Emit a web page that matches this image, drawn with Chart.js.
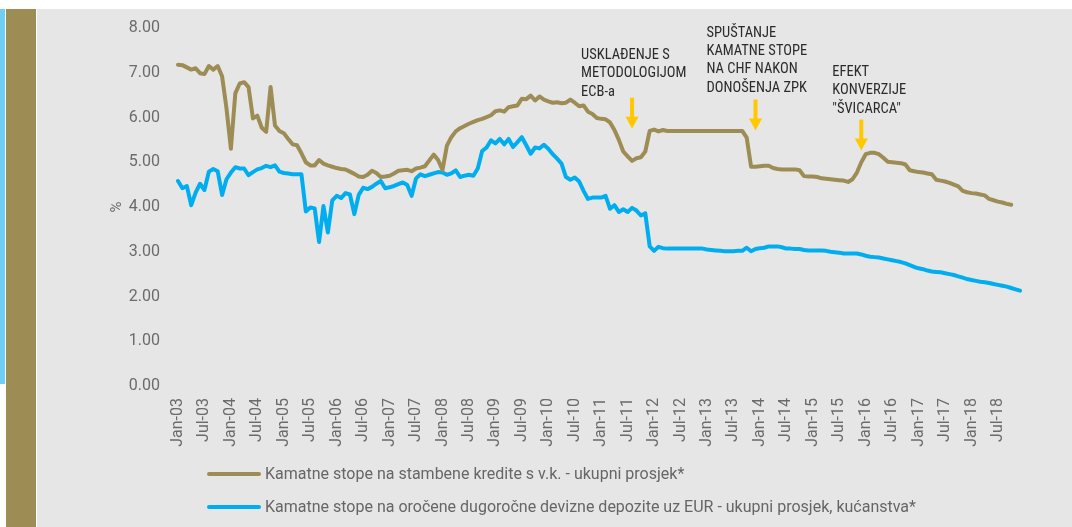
<!DOCTYPE html>
<html>
<head>
<meta charset="utf-8">
<script src="https://cdn.jsdelivr.net/npm/chart.js@4.4.1/dist/chart.umd.min.js"></script>
<style>
  html, body { margin: 0; padding: 0; background: #ffffff; }
  body { width: 1072px; height: 527px; position: relative; overflow: hidden; font-family: Roboto, "Noto Sans", sans-serif; }
  #blueStrip { position: absolute; left: 0; top: 9px; width: 5px; height: 375px; background: #6dcff6; }
  #oliveStrip { position: absolute; left: 6px; top: 9px; width: 30px; height: 518px; background: #9e8c55; }
  #panel { position: absolute; left: 37px; top: 9px; width: 1035px; height: 518px; background: #e6e6e6; }
  #chartWrap { position: absolute; left: 37px; top: 9px; width: 1035px; height: 518px; }
  .leg { position: absolute; left: 207px; font-size: 16px; color: #666; white-space: nowrap; display: flex; align-items: center; }
  .leg .sw { width: 54px; height: 4px; border-radius: 2px; margin-right: 4px; }
</style>
</head>
<body>
<div id="blueStrip"></div>
<div id="oliveStrip"></div>
<div id="panel"></div>
<div id="chartWrap"><canvas id="c" width="1035" height="518"></canvas></div>
<div class="leg" style="top:464px"><span class="sw" style="background:#9e8c55"></span><span id="leg0"></span></div>
<div class="leg" style="top:497px"><span class="sw" style="background:#00aeef"></span><span id="leg1"></span></div>
<script>
// ---- data ----
const monthNames = ['Jan','Feb','Mar','Apr','May','Jun','Jul','Aug','Sep','Oct','Nov','Dec'];
const years = ['03','04','05','06','07','08','09','10','11','12','13','14','15','16','17','18'];
const categories = [];
years.forEach(y => monthNames.forEach(m => categories.push(m + '-' + y)));

const seriesNames = [
  'Kamatne stope na stambene kredite s v.k. - ukupni prosjek*',
  'Kamatne stope na oročene dugoročne devizne depozite uz EUR - ukupni prosjek, kućanstva*'
];

const housingLoans = [
  7.18,7.17,7.12,7.07,7.10,6.99,6.97,7.15,7.07,7.15,6.92,6.20,
  5.30,6.54,6.76,6.79,6.68,5.98,6.04,5.77,5.68,6.68,5.82,5.70,
  5.65,5.52,5.40,5.38,5.20,5.00,4.93,4.93,5.05,4.97,4.93,4.90,
  4.87,4.85,4.84,4.79,4.74,4.68,4.67,4.72,4.81,4.76,4.67,4.68,
  4.70,4.75,4.81,4.82,4.83,4.80,4.86,4.88,4.91,5.04,5.17,5.05,
  4.83,5.37,5.56,5.69,5.76,5.81,5.86,5.90,5.94,5.97,6.01,6.05,
  6.14,6.16,6.13,6.23,6.25,6.27,6.42,6.41,6.49,6.38,6.47,6.40,
  6.36,6.33,6.34,6.32,6.33,6.40,6.33,6.25,6.27,6.13,6.08,5.99,
  5.97,5.96,5.89,5.72,5.50,5.24,5.13,5.03,5.09,5.11,5.24,5.70,
  5.73,5.69,5.72,5.70,5.70,5.70,5.70,5.70,5.70,5.70,5.70,5.70,
  5.70,5.70,5.70,5.70,5.70,5.70,5.70,5.70,5.70,5.55,4.90,4.90,
  4.91,4.92,4.92,4.87,4.85,4.84,4.84,4.84,4.84,4.82,4.69,4.68,
  4.68,4.67,4.64,4.63,4.62,4.61,4.60,4.59,4.56,4.62,4.77,5.00,
  5.18,5.21,5.21,5.18,5.10,5.01,5.00,4.99,4.98,4.95,4.82,4.80,
  4.78,4.77,4.75,4.73,4.61,4.59,4.57,4.54,4.50,4.46,4.36,4.33,
  4.31,4.30,4.28,4.26,4.18,4.15,4.12,4.10,4.07,4.05
];

const eurDeposits = [
  4.58,4.42,4.47,4.04,4.32,4.52,4.38,4.79,4.85,4.80,4.27,4.62,
  4.77,4.89,4.86,4.86,4.71,4.78,4.84,4.87,4.92,4.89,4.93,4.79,
  4.76,4.75,4.73,4.73,4.73,3.90,3.99,3.97,3.22,4.02,3.43,4.15,
  4.25,4.20,4.31,4.28,3.84,4.27,4.43,4.40,4.45,4.52,4.58,4.42,
  4.44,4.47,4.51,4.55,4.49,4.25,4.64,4.73,4.69,4.72,4.75,4.78,
  4.77,4.72,4.75,4.82,4.67,4.70,4.72,4.70,4.86,5.25,5.33,5.49,
  5.42,5.52,5.40,5.52,5.34,5.45,5.56,5.38,5.19,5.33,5.31,5.39,
  5.30,5.18,5.08,4.97,4.67,4.61,4.66,4.57,4.36,4.18,4.21,4.21,
  4.21,4.25,3.96,4.04,3.89,3.95,3.89,3.98,3.92,3.81,3.86,3.12,
  3.02,3.11,3.08,3.07,3.07,3.07,3.07,3.07,3.07,3.07,3.07,3.07,
  3.05,3.04,3.03,3.02,3.01,3.01,3.01,3.02,3.02,3.09,3.01,3.06,
  3.08,3.09,3.12,3.12,3.12,3.10,3.07,3.07,3.06,3.06,3.04,3.03,
  3.03,3.03,3.03,3.02,3.00,2.99,2.98,2.96,2.96,2.96,2.96,2.94,
  2.91,2.89,2.88,2.87,2.85,2.83,2.81,2.79,2.77,2.74,2.70,2.66,
  2.63,2.61,2.58,2.56,2.55,2.54,2.52,2.50,2.48,2.45,2.42,2.39,
  2.37,2.35,2.33,2.32,2.30,2.28,2.26,2.24,2.22,2.19,2.16,2.13
];

const yTicks = ['0.00','1.00','2.00','3.00','4.00','5.00','6.00','7.00','8.00'];

// annotations: category index of arrow, text lines
const annIndex = [103, 131, 155];
const annTexts = [
  ['USKLAĐENJE S', 'METODOLOGIJOM', 'ECB-a'],
  ['SPUŠTANJE', 'KAMATNE STOPE', 'NA CHF NAKON', 'DONOŠENJA ZPK'],
  ['EFEKT', 'KONVERZIJE', '"ŠVICARCA"']
];

// ---- styles / placement (not data) ----
const annStyle = [
  { dx: -51, textTopValue: 7.39, arrowTipValue: 5.75 },
  { dx: -49, textTopValue: 7.89, arrowTipValue: 5.71 },
  { dx: -29, textTopValue: 7.01, arrowTipValue: 5.26 }
];

document.getElementById('leg0').textContent = seriesNames[0];
document.getElementById('leg1').textContent = seriesNames[1];

const annotationPlugin = {
  id: 'annotations',
  afterDraw(chart) {
    const ctx = chart.ctx;
    const xs = chart.scales.x, ys = chart.scales.y;
    ctx.save();
    ctx.font = '14.5px "Liberation Sans Narrow", "Roboto Condensed", Roboto, sans-serif';
    ctx.textBaseline = 'middle';
    ctx.textAlign = 'left';
    annIndex.forEach((idx, i) => {
      const ax = xs.getPixelForValue(idx);
      const st = annStyle[i];
      const ty = ys.getPixelForValue(st.textTopValue);
      ctx.fillStyle = '#2b2b2b';
      annTexts[i].forEach((line, j) => {
        ctx.fillText(line, ax + st.dx, ty + j * 18.4);
      });
      const tip = ys.getPixelForValue(st.arrowTipValue);
      const top = tip - 31;
      const headH = 12, headW = 13, shaftW = 4;
      ctx.fillStyle = '#ffc800';
      ctx.fillRect(ax - shaftW / 2, top, shaftW, tip - headH - top + 1);
      ctx.beginPath();
      ctx.moveTo(ax - headW / 2, tip - headH);
      ctx.lineTo(ax + headW / 2, tip - headH);
      ctx.lineTo(ax, tip);
      ctx.closePath();
      ctx.fill();
    });
    ctx.restore();
  }
};

new Chart(document.getElementById('c'), {
  type: 'line',
  data: {
    labels: categories,
    datasets: [
      { label: seriesNames[0], data: housingLoans, borderColor: '#9e8c55', backgroundColor: '#9e8c55',
        borderWidth: 4, pointRadius: 0, tension: 0, borderJoinStyle: 'round', borderCapStyle: 'round', fill: false },
      { label: seriesNames[1], data: eurDeposits, borderColor: '#00aeef', backgroundColor: '#00aeef',
        borderWidth: 4, pointRadius: 0, tension: 0, borderJoinStyle: 'round', borderCapStyle: 'round', fill: false }
    ]
  },
  options: {
    responsive: false,
    animation: false,
    layout: { padding: { left: 67, right: 52, top: 19, bottom: 71 } },
    plugins: { legend: { display: false }, tooltip: { enabled: false } },
    scales: {
      x: {
        grid: { display: false, drawTicks: false },
        border: { display: false },
        ticks: {
          autoSkip: false, maxRotation: 90, minRotation: 90, padding: 12,
          color: '#6b6b6b', font: { family: 'Roboto', size: 16 },
          callback: (v, i) => (i % 6 === 0 ? categories[i] : '')
        },
        afterFit: (s) => { s.height = 70; }
      },
      y: {
        min: 0, max: 8,
        grid: { display: false, drawTicks: false },
        border: { display: false },
        title: { display: true, text: '%', color: '#6b6b6b', font: { family: 'Roboto', size: 15 }, padding: { top: 4, bottom: 4 } },
        ticks: {
          stepSize: 1, padding: 18, color: '#6b6b6b', font: { family: 'Roboto', size: 16 },
          callback: (v) => yTicks[Math.round(v)]
        },
        afterFit: (s) => { s.width = 74; s.paddingTop = 0; s.paddingBottom = 0; }
      }
    }
  },
  plugins: [annotationPlugin]
});
</script>
</body>
</html>
